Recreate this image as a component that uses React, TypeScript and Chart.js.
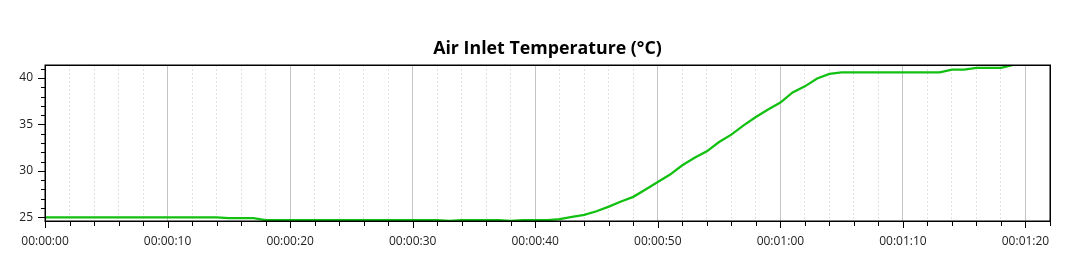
import React, { useEffect, useRef } from 'react';
import { Chart, registerables } from 'chart.js';

Chart.register(...registerables);

const TITLE = 'Air Inlet Temperature (°C)';

const seconds = [
  0, 1, 2, 3, 4, 5, 6, 7, 8, 9, 10, 11, 12, 13, 14, 15, 16, 17, 18, 19,
  20, 21, 22, 23, 24, 25, 26, 27, 28, 29, 30, 31, 32, 33, 34, 35, 36, 37, 38, 39,
  40, 41, 42, 43, 44, 45, 46, 47, 48, 49, 50, 51, 52, 53, 54, 55, 56, 57, 58, 59,
  60, 61, 62, 63, 64, 65, 66, 67, 68, 69, 70, 71, 72, 73, 74, 75, 76, 77, 78, 79,
];

const temperatures = [
  25.0, 25.0, 25.0, 25.0, 25.0, 25.0, 25.0, 25.0, 25.0, 25.0, 25.0, 25.0, 25.0, 25.0, 25.0, 24.9, 24.9, 24.9, 24.7, 24.7,
  24.7, 24.7, 24.7, 24.7, 24.7, 24.7, 24.7, 24.7, 24.7, 24.7, 24.7, 24.7, 24.7, 24.6, 24.7, 24.7, 24.7, 24.7, 24.6, 24.7,
  24.7, 24.7, 24.8, 25.05, 25.25, 25.65, 26.15, 26.7, 27.2, 28.0, 28.8, 29.6, 30.6, 31.4, 32.1, 33.1, 33.9, 34.9, 35.8, 36.6,
  37.35, 38.45, 39.1, 39.95, 40.45, 40.6, 40.6, 40.6, 40.6, 40.6, 40.6, 40.6, 40.6, 40.6, 40.9, 40.9, 41.1, 41.1, 41.1, 41.4,
];

const xTickLabels = [
  '00:00:00', '00:00:10', '00:00:20', '00:00:30', '00:00:40',
  '00:00:50', '00:01:00', '00:01:10', '00:01:20',
];

const yTickLabels = [25, 30, 35, 40];

const X_MIN = 0;
const X_MAX = 82;
const Y_MIN = 24.6;
const Y_MAX = 41.4;

const FONT = '"Open Sans", "Noto Sans", sans-serif';

const isInt = (v: number) => Math.abs(v - Math.round(v)) < 1e-6;

const frameAndTicks = {
  id: 'frameAndTicks',
  afterDatasetsDraw(chart: any) {
    const { ctx, chartArea, scales } = chart;
    const { left, right, top, bottom } = chartArea;
    ctx.save();
    ctx.strokeStyle = '#000';
    ctx.lineWidth = 1;
    for (const t of scales.x.ticks) {
      const v = t.value;
      if (!isInt(v)) continue;
      const px = Math.round(scales.x.getPixelForValue(v)) + 0.5;
      const len = Math.round(v) % 10 === 0 ? 7 : 5;
      ctx.beginPath();
      ctx.moveTo(px, bottom);
      ctx.lineTo(px, bottom + len);
      ctx.stroke();
    }
    for (const t of scales.y.ticks) {
      const v = t.value;
      if (!isInt(v)) continue;
      const py = Math.round(scales.y.getPixelForValue(v)) + 0.5;
      const len = Math.round(v) % 5 === 0 ? 7 : 4;
      ctx.beginPath();
      ctx.moveTo(left, py);
      ctx.lineTo(left - len, py);
      ctx.stroke();
    }
    ctx.lineWidth = 1.5;
    ctx.strokeRect(Math.round(left) + 0.25, Math.round(top) + 0.25, Math.round(right - left), Math.round(bottom - top));

    // title centred over the plot area
    ctx.fillStyle = '#000';
    ctx.font = `bold 17.8px ${FONT}`;
    ctx.textAlign = 'center';
    ctx.textBaseline = 'middle';
    ctx.fillText(TITLE, (left + right) / 2, 48.7);
    ctx.restore();
  },
};

export default function App() {
  const canvasRef = useRef<HTMLCanvasElement | null>(null);

  useEffect(() => {
    if (!canvasRef.current) return;
    const points = seconds.map((s, i) => ({ x: s, y: temperatures[i] }));
    const chart = new Chart(canvasRef.current, {
      type: 'line',
      data: {
        datasets: [
          {
            label: TITLE,
            data: points,
            borderColor: 'rgb(18,192,18)',
            backgroundColor: 'rgb(18,192,18)',
            borderWidth: 2.3,
            pointRadius: 0,
            tension: 0,
            fill: false,
          },
        ],
      },
      options: {
        animation: false,
        responsive: true,
        maintainAspectRatio: false,
        layout: { padding: { left: 0, right: 16, top: 65, bottom: 0 } },
        plugins: {
          legend: { display: false },
          tooltip: { enabled: false },
          title: { display: false },
        },
        scales: {
          x: {
            type: 'linear',
            min: X_MIN,
            max: X_MAX,
            afterFit(scale: any) {
              scale.height = 51;
            },
            border: {
              display: false,
              dash: (ctx: any) => (Math.round(ctx.tick?.value ?? 0) % 10 === 0 ? [] : [2, 2]),
            },
            grid: {
              drawTicks: false,
              color: (ctx: any) => (Math.round(ctx.tick?.value ?? 0) % 10 === 0 ? '#c4c4c4' : '#e0e0e0'),
              lineWidth: 1,
            },
            ticks: {
              stepSize: 2,
              autoSkip: false,
              includeBounds: false,
              maxRotation: 0,
              padding: 13,
              color: '#222',
              font: { family: FONT, size: 12 },
              callback: (value: any) => {
                const v = Number(value);
                if (!isInt(v) || Math.round(v) % 10 !== 0) return '';
                return xTickLabels[Math.round(v) / 10] ?? '';
              },
            },
          },
          y: {
            type: 'linear',
            min: Y_MIN,
            max: Y_MAX,
            afterFit(scale: any) {
              scale.width = 45;
            },
            border: { display: false },
            grid: { display: true, drawOnChartArea: false, drawTicks: false },
            ticks: {
              stepSize: 1,
              autoSkip: false,
              includeBounds: false,
              padding: 12,
              color: '#222',
              font: { family: FONT, size: 12 },
              callback: (value: any) => {
                const v = Number(value);
                if (!isInt(v)) return '';
                return yTickLabels.includes(Math.round(v)) ? String(Math.round(v)) : '';
              },
            },
          },
        },
      },
      plugins: [frameAndTicks],
    });
    return () => chart.destroy();
  }, []);

  return (
    <div style={{ position: 'absolute', left: 0, top: 0, width: 1066, height: 272, background: '#fff' }}>
      <canvas ref={canvasRef} />
    </div>
  );
}
